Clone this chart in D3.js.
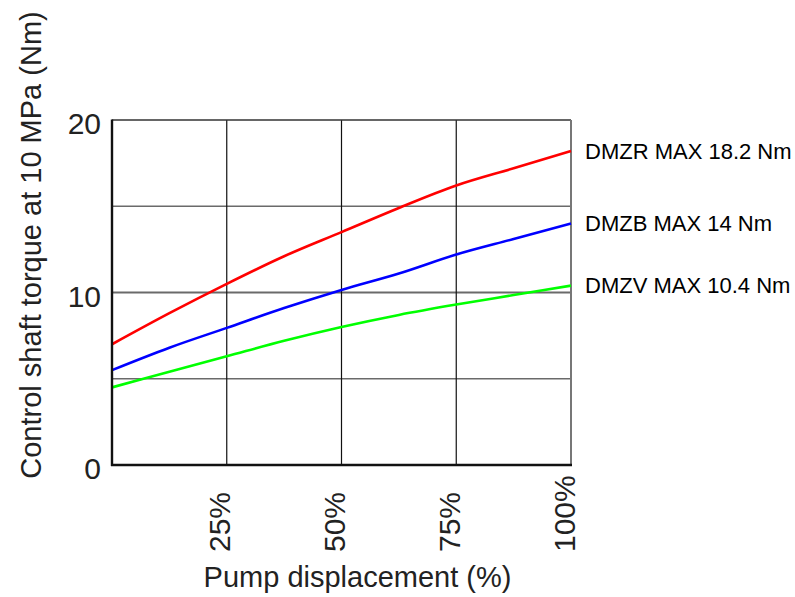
<!DOCTYPE html>
<html>
<head>
<meta charset="utf-8">
<script src="https://cdn.jsdelivr.net/npm/d3@7"></script>
<style>
  html, body { margin: 0; padding: 0; background: #fff; }
  svg { display: block; font-family: Arial, "Liberation Sans", sans-serif; }
</style>
</head>
<body>
<svg id="chart" width="795" height="597"></svg>
<script>
// Pump displacement (%) sample positions
const displacement = [0, 12.5, 25, 37.5, 50, 62.5, 75, 87.5, 100];

// Control shaft torque at 10 MPa (Nm) per model
const dmzr = [7.0, 8.8, 10.5, 12.1, 13.5, 14.9, 16.2, 17.2, 18.2];
const dmzb = [5.5, 6.8, 7.95, 9.1, 10.15, 11.1, 12.2, 13.1, 14.0];
const dmzv = [4.5, 5.4, 6.3, 7.2, 8.0, 8.7, 9.3, 9.85, 10.4];

const seriesNames = ["DMZR MAX 18.2 Nm", "DMZB MAX 14 Nm", "DMZV MAX 10.4 Nm"];
const seriesColors = ["#ff0000", "#0000ff", "#00ff00"];

const xTicks = [25, 50, 75, 100];
const xTickLabels = ["25%", "50%", "75%", "100%"];
const yTicks = [0, 10, 20];
const yGrid = [5, 10, 15];

const svg = d3.select("#chart");
const pl = 112, pr = 571, pt = 120, pb = 465;

const x = d3.scaleLinear().domain([0, 100]).range([pl, pr]);
const y = d3.scaleLinear().domain([0, 20]).range([pb, pt]);

// horizontal grid
svg.append("g").selectAll("line").data(yGrid).join("line")
  .attr("x1", pl).attr("x2", pr)
  .attr("y1", d => y(d)).attr("y2", d => y(d))
  .attr("stroke", "#6a6a6a")
  .attr("stroke-width", d => d === 10 ? 2 : 1.3);

// vertical grid
svg.append("g").selectAll("line").data(xTicks.filter(d => d < 100)).join("line")
  .attr("x1", d => x(d)).attr("x2", d => x(d))
  .attr("y1", pt).attr("y2", pb)
  .attr("stroke", "#111").attr("stroke-width", 1.2);

// frame
svg.append("line").attr("x1", pl).attr("x2", pr).attr("y1", pt).attr("y2", pt)
  .attr("stroke", "#333").attr("stroke-width", 1.3);
svg.append("line").attr("x1", pr).attr("x2", pr).attr("y1", pt).attr("y2", pb)
  .attr("stroke", "#777").attr("stroke-width", 2);

// curves
const series = [dmzr, dmzb, dmzv];
const line = d3.line()
  .x((d, i) => x(displacement[i]))
  .y(d => y(d))
  .curve(d3.curveMonotoneX);

svg.append("g").selectAll("path").data(series).join("path")
  .attr("d", d => line(d))
  .attr("fill", "none")
  .attr("stroke", (d, i) => seriesColors[i])
  .attr("stroke-width", 2.6);

// axis lines
svg.append("line").attr("x1", pl).attr("x2", pl).attr("y1", pt - 0.5).attr("y2", pb + 1)
  .attr("stroke", "#111").attr("stroke-width", 2.4);
svg.append("line").attr("x1", pl - 1).attr("x2", pr + 1).attr("y1", pb).attr("y2", pb)
  .attr("stroke", "#111").attr("stroke-width", 2.4);

// y tick labels
const yAxis = d3.axisLeft(y).tickValues(yTicks).tickSize(0).tickPadding(11);
const gy = svg.append("g").attr("transform", `translate(${pl},0)`).call(yAxis);
gy.select(".domain").remove();
gy.selectAll("text")
  .attr("font-size", 30).attr("fill", "#222")
  .attr("dy", "0.45em")
  .attr("font-family", "Arial, 'Liberation Sans', sans-serif");

// x tick labels, rotated
const xAxis = d3.axisBottom(x).tickValues(xTicks).tickFormat((d, i) => xTickLabels[i]).tickSize(0);
const gx = svg.append("g").attr("transform", `translate(0,${pb})`).call(xAxis);
gx.select(".domain").remove();
gx.selectAll("text")
  .attr("font-size", 30).attr("fill", "#222")
  .attr("font-family", "Arial, 'Liberation Sans', sans-serif")
  .attr("text-anchor", "start")
  .attr("dy", null)
  .attr("transform", "translate(3,87) rotate(-90)")
  .attr("x", 0).attr("y", 0);

// series labels at the curve ends
svg.append("g").selectAll("text").data(series).join("text")
  .attr("x", pr + 14)
  .attr("y", d => y(d[d.length - 1]))
  .attr("dy", "0.35em")
  .attr("font-size", 22)
  .attr("fill", "#000")
  .text((d, i) => seriesNames[i]);

// axis titles
svg.append("text")
  .attr("x", (pl + pr) / 2 + 16).attr("y", 587)
  .attr("text-anchor", "middle")
  .attr("font-size", 29).attr("fill", "#222")
  .text("Pump displacement (%)");

svg.append("text")
  .attr("transform", "translate(41,245) rotate(-90)")
  .attr("text-anchor", "middle")
  .attr("font-size", 29).attr("fill", "#222")
  .text("Control shaft torque at 10 MPa (Nm)");
</script>
</body>
</html>
